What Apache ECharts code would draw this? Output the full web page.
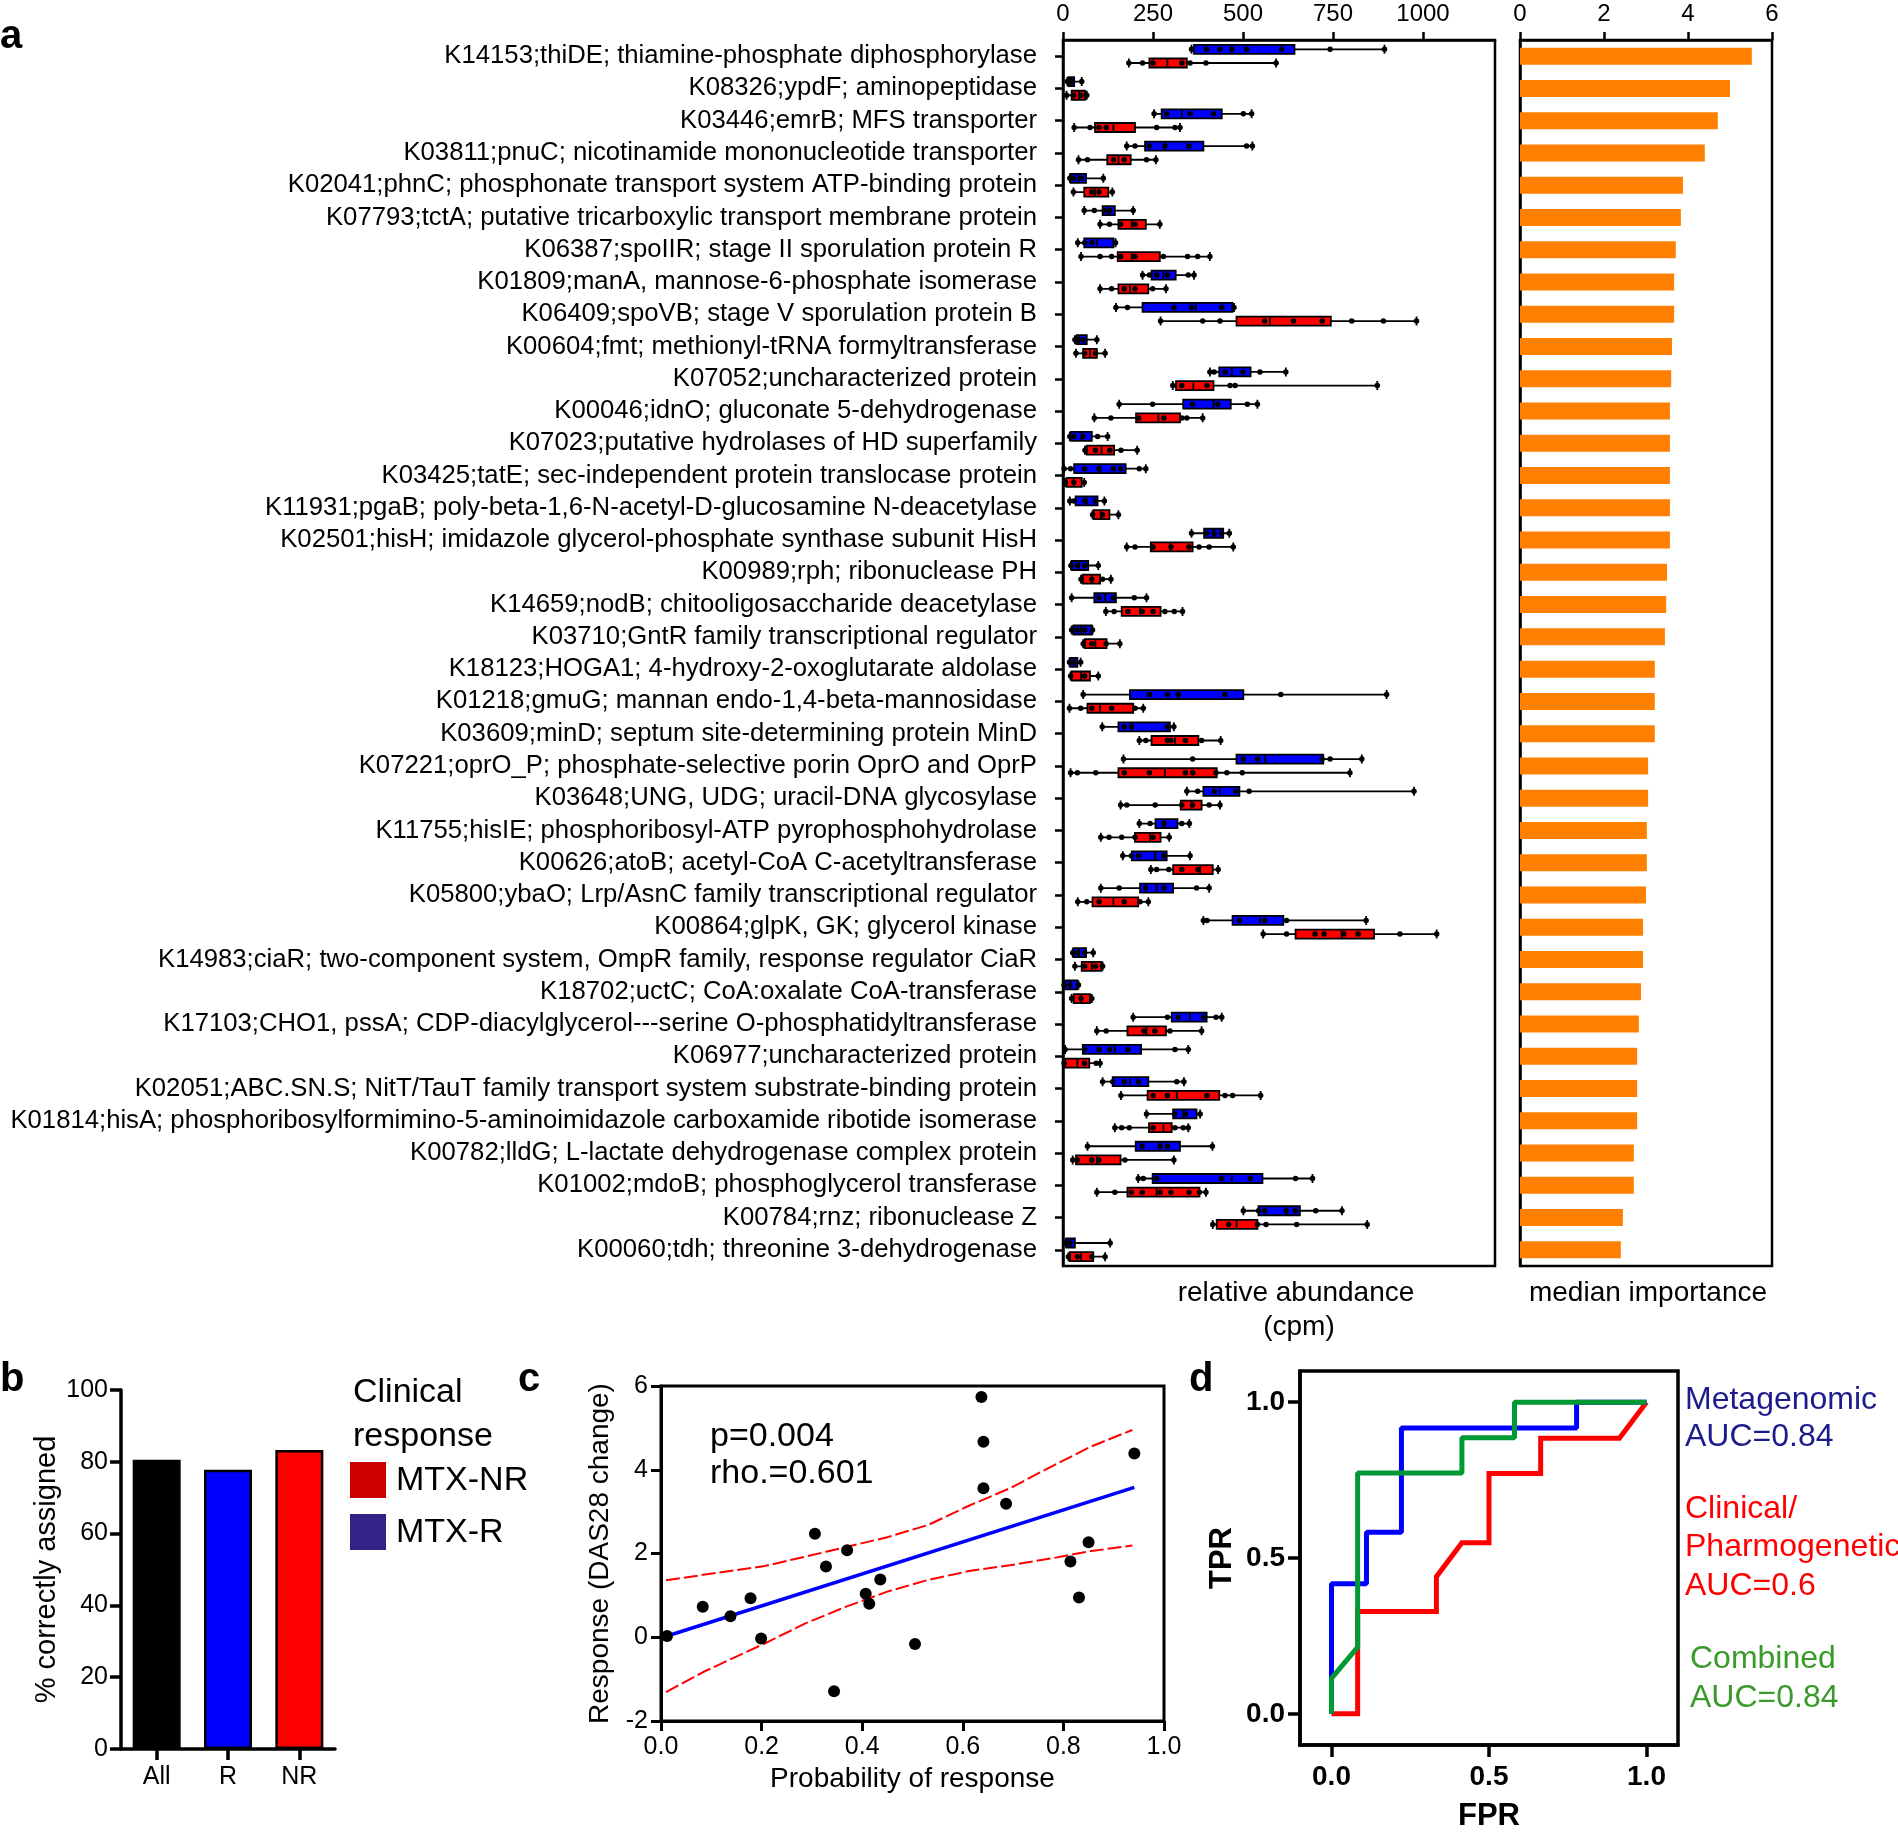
<!DOCTYPE html>
<html><head><meta charset="utf-8">
<script src="https://cdn.jsdelivr.net/npm/echarts@6/dist/echarts.min.js"></script>
<style>html,body{margin:0;padding:0;background:#fff}#c{width:1898px;height:1833px}</style>
</head><body><div id="c"></div>
<script>
// ---------- Panel a data ----------
const genes = [
"K14153;thiDE; thiamine-phosphate diphosphorylase",
"K08326;ypdF; aminopeptidase",
"K03446;emrB; MFS transporter",
"K03811;pnuC; nicotinamide mononucleotide transporter",
"K02041;phnC; phosphonate transport system ATP-binding protein",
"K07793;tctA; putative tricarboxylic transport membrane protein",
"K06387;spoIIR; stage II sporulation protein R",
"K01809;manA, mannose-6-phosphate isomerase",
"K06409;spoVB; stage V sporulation protein B",
"K00604;fmt; methionyl-tRNA formyltransferase",
"K07052;uncharacterized protein",
"K00046;idnO; gluconate 5-dehydrogenase",
"K07023;putative hydrolases of HD superfamily",
"K03425;tatE; sec-independent protein translocase protein",
"K11931;pgaB; poly-beta-1,6-N-acetyl-D-glucosamine N-deacetylase",
"K02501;hisH; imidazole glycerol-phosphate synthase subunit HisH",
"K00989;rph; ribonuclease PH",
"K14659;nodB; chitooligosaccharide deacetylase",
"K03710;GntR family transcriptional regulator",
"K18123;HOGA1; 4-hydroxy-2-oxoglutarate aldolase",
"K01218;gmuG; mannan endo-1,4-beta-mannosidase",
"K03609;minD; septum site-determining protein MinD",
"K07221;oprO_P; phosphate-selective porin OprO and OprP",
"K03648;UNG, UDG; uracil-DNA glycosylase",
"K11755;hisIE; phosphoribosyl-ATP pyrophosphohydrolase",
"K00626;atoB; acetyl-CoA C-acetyltransferase",
"K05800;ybaO; Lrp/AsnC family transcriptional regulator",
"K00864;glpK, GK; glycerol kinase",
"K14983;ciaR; two-component system, OmpR family, response regulator CiaR",
"K18702;uctC; CoA:oxalate CoA-transferase",
"K17103;CHO1, pssA; CDP-diacylglycerol---serine O-phosphatidyltransferase",
"K06977;uncharacterized protein",
"K02051;ABC.SN.S; NitT/TauT family transport system substrate-binding protein",
"K01814;hisA; phosphoribosylformimino-5-aminoimidazole carboxamide ribotide isomerase",
"K00782;lldG; L-lactate dehydrogenase complex protein",
"K01002;mdoB; phosphoglycerol transferase",
"K00784;rnz; ribonuclease Z",
"K00060;tdh; threonine 3-dehydrogenase"
];
// [min, Q1, median, Q3, max] relative abundance (cpm), MTX-R (blue)
const boxR = [
[357,364,469,643,893],[12,15,22,31,52],[253,274,330,441,524],[177,228,283,390,526],
[19,21,43,64,112],[59,110,125,144,195],[41,59,94,140,146],[221,246,279,313,364],
[147,221,369,471,475],[33,38,45,66,94],[408,434,469,521,619],[156,334,418,466,540],
[19,21,52,80,124],[3,31,103,174,230],[19,35,66,96,115],[357,392,418,445,462],
[22,24,45,70,98],[24,87,117,147,232],[24,29,50,80,82],[18,20,30,40,49],
[56,186,320,501,899],[109,154,191,297,308],[168,482,561,723,830],[344,390,436,490,975],
[212,257,283,318,351],[166,191,256,288,353],[105,214,260,306,406],[390,471,547,612,842],
[27,29,45,64,84],[3,5,20,40,43],[195,302,353,399,441],[6,55,144,217,348],
[110,138,186,237,336],[232,306,334,371,381],[68,202,269,325,415],[209,249,469,554,693],
[501,543,621,658,775],[8,9,20,33,131]
];
// MTX-NR (red)
const boxNR = [
[183,240,290,344,592],[10,24,45,61,66],[31,89,140,200,325],[43,123,154,188,258],
[29,59,89,126,137],[103,154,191,230,269],[50,152,191,269,408],[103,154,186,237,286],
[271,482,575,744,982],[36,56,75,94,117],[305,314,362,418,873],[87,203,265,325,388],
[61,66,107,142,206],[6,10,30,52,59],[82,85,105,129,154],[177,244,297,360,473],
[50,55,80,103,133],[119,163,214,271,332],[56,61,90,121,158],[21,24,50,75,98],
[18,68,103,195,223],[212,246,311,376,438],[21,154,283,427,797],[160,327,357,385,436],
[105,200,242,271,295],[244,306,381,416,431],[41,82,140,209,237],[556,646,774,864,1038],
[33,52,80,107,110],[24,30,50,75,80],[94,179,232,286,385],[3,6,40,73,103],
[161,235,316,434,549],[144,239,279,302,348],[27,36,94,160,308],[94,179,260,379,397],
[416,427,482,540,845],[15,19,50,84,117]
];
// individual samples
const ptsR = [
[357,399,436,469,510,607,742,893],[12,18,25,52],[253,288,353,418,501,524],[177,200,240,283,350,510,526],
[19,30,50,112],[59,87,115,130,195],[41,60,80,146],[221,240,260,290,348,364],
[147,179,308,357,441,475],[33,40,55,94],[408,420,450,500,547,619],[156,249,360,430,512,540],
[19,30,55,96,124],[3,21,60,100,140,160,212,230],[19,30,60,90,115],[357,400,420,440,462],
[22,40,60,98],[24,100,140,198,232],[24,40,60,82],[18,30,49],
[56,240,290,320,450,605,899],[109,170,190,290,308],[168,360,500,540,720,742,830],[344,374,420,480,517,975],
[212,242,280,330,351],[166,190,210,280,353],[105,156,230,280,371,406],[390,400,490,560,621,842],
[27,40,60,84],[3,20,43],[195,290,320,390,425,441],[6,60,100,130,180,311,348],
[110,138,170,210,316,336],[232,310,340,381],[68,220,270,290,415],[209,223,260,440,520,646,693],
[501,543,560,620,645,702,775],[8,20,131]
];
const ptsNR = [
[183,221,250,330,353,397,592],[10,30,50,66],[31,75,100,120,260,311,325],[43,68,140,170,232,258],
[29,80,100,137],[103,129,160,200,269],[50,103,135,160,200,279,346,374,408],[103,135,170,200,249,286],
[271,388,436,560,640,720,802,890,982],[36,60,90,117],[305,330,400,464,478,873],[87,133,210,280,330,344,388],
[61,90,130,161,206],[6,30,59],[82,110,154],[177,200,250,300,350,378,406,473],
[50,80,110,133],[119,142,180,220,250,283,309,332],[56,80,120,158],[21,60,98],
[18,49,80,135,200,223],[212,230,290,300,340,385,438],[21,40,91,170,240,340,360,425,455,498,797],[160,177,256,330,360,406,436],
[105,128,163,200,250,295],[244,260,294,330,375,431],[41,66,100,170,214,237],[556,621,700,725,780,820,936,1038],
[33,60,90,110],[24,50,80],[94,120,225,255,297,385],[3,60,92,103],
[161,250,290,400,450,471,549],[144,163,184,250,311,334,348],[27,40,80,100,172,308],[94,144,190,220,270,300,350,379,397],
[416,460,540,564,649,845],[15,40,80,117]
];
const importance = [5.52,5.00,4.71,4.40,3.88,3.83,3.71,3.67,3.67,3.62,3.60,3.57,3.57,3.57,3.57,3.57,3.50,3.48,3.45,
3.21,3.21,3.21,3.05,3.05,3.02,3.02,3.00,2.93,2.93,2.88,2.83,2.79,2.79,2.79,2.71,2.71,2.45,2.40];
const abundTicks = [0,250,500,750,1000];

// ---------- Panel b data ----------
const groups = ['All','R','NR'];
const pctCorrect = [80.6, 77.8, 83.3];
const groupColors = ['#000000','#0000ff','#ff0000'];

// ---------- Panel c data ----------
const probResp = [0.012,0.083,0.138,0.178,0.199,0.306,0.328,0.344,0.370,0.407,0.414,0.436,0.505,0.637,0.641,0.641,0.686,0.814,0.831,0.850,0.941];
const dasChange = [0.03,0.73,0.50,0.93,-0.03,2.47,1.69,-1.29,2.08,1.04,0.80,1.38,-0.16,5.74,4.67,3.56,3.19,1.81,0.95,2.27,4.39];
const fitLine = [[0.012,0.03],[0.941,3.58]];
const ciUpper = [[0.01,1.36],[0.084,1.49],[0.206,1.70],[0.328,2.04],[0.45,2.39],[0.531,2.68],[0.612,3.14],[0.694,3.56],[0.775,4.07],[0.856,4.56],[0.937,4.95]];
const ciLower = [[0.01,-1.31],[0.084,-0.83],[0.141,-0.51],[0.206,-0.15],[0.287,0.33],[0.368,0.73],[0.45,1.09],[0.531,1.37],[0.612,1.58],[0.694,1.72],[0.775,1.88],[0.856,2.06],[0.937,2.19]];

// ---------- Panel d data (FPR, TPR) ----------
const rocMeta = [[0,0],[0,0.417],[0.111,0.417],[0.111,0.583],[0.222,0.583],[0.222,0.917],[0.778,0.917],[0.778,1],[1,1]];
const rocClin = [[0,0],[0.083,0],[0.083,0.328],[0.333,0.328],[0.333,0.44],[0.414,0.549],[0.5,0.549],[0.5,0.771],[0.664,0.771],[0.664,0.884],[0.914,0.884],[1,1]];
const rocComb = [[0,0],[0,0.114],[0.083,0.214],[0.083,0.773],[0.414,0.773],[0.414,0.886],[0.581,0.886],[0.581,1],[1,1]];
const rocTicks = [0,0.5,1];

// ---------- build ----------
const FONT = "'Liberation Sans', Arial, Helvetica, sans-serif";
const BLK = '#000';
const ptDataR = [], ptDataNR = [];
ptsR.forEach((a,i)=>a.forEach(v=>ptDataR.push([v,i])));
ptsNR.forEach((a,i)=>a.forEach(v=>ptDataNR.push([v,i])));

function txt(text, x, y, size, o) {
  o = o || {};
  return {type:'text', x:x, y:y, z:100, style:{text:text, fontSize:size, fontFamily:FONT,
    fontWeight:o.bold?'bold':'normal', fill:o.color||BLK,
    align:o.align||'left', verticalAlign:'middle', textAlign:o.align||'left', textVerticalAlign:'middle'}};
}
const axLine = w => ({show:true, onZero:false, lineStyle:{color:BLK, width:w}});
const axTick = (w,len,extra) => Object.assign({show:true, inside:false, length:len, lineStyle:{color:BLK, width:w}}, extra||{});
const lbl = (size, margin, extra) => Object.assign({show:true, color:BLK, fontSize:size, fontFamily:FONT, margin:margin}, extra||{});

const option = {
  animation:false,
  backgroundColor:'#fff',
  textStyle:{fontFamily:FONT, color:BLK},
  grid:[
    {left:1063, top:40, width:432, height:1226, show:true, borderColor:BLK, borderWidth:2.5, backgroundColor:'transparent'},
    {left:1520, top:40, width:252, height:1226, show:true, borderColor:BLK, borderWidth:2.5, backgroundColor:'transparent'},
    {left:121, top:1390, width:214, height:359},
    {left:661, top:1386, width:503, height:335, show:true, borderColor:BLK, borderWidth:3, backgroundColor:'transparent'},
    {left:1300, top:1371, width:378, height:378, show:true, borderColor:BLK, borderWidth:3.5, backgroundColor:'transparent'}
  ],
  xAxis:[
    {type:'value', gridIndex:0, position:'top', min:0, max:1200, axisLine:axLine(2.5),
     axisTick:axTick(2.5,8,{customValues:abundTicks}),
     axisLabel:lbl(24,14,{customValues:abundTicks, formatter:v=>String(v)}), splitLine:{show:false}},
    {type:'value', gridIndex:1, position:'top', min:0, max:6, interval:2, axisLine:axLine(2.5),
     axisTick:axTick(2.5,8), axisLabel:lbl(24,14), splitLine:{show:false}},
    {type:'category', gridIndex:2, data:groups, axisLine:axLine(3.5),
     axisTick:axTick(3.5,11,{alignWithLabel:true}), axisLabel:lbl(25,16,{interval:0}), splitLine:{show:false}},
    {type:'value', gridIndex:3, min:0, max:1, interval:0.2, axisLine:axLine(3),
     axisTick:axTick(3,10), axisLabel:lbl(25,14,{formatter:v=>v.toFixed(1)}), splitLine:{show:false},
     name:'Probability of response', nameLocation:'middle', nameGap:44, nameTextStyle:{fontSize:28, color:BLK, fontFamily:FONT}},
    {type:'value', gridIndex:4, min:-0.1, max:1.1, axisLine:axLine(3.5),
     axisTick:axTick(3.5,12,{customValues:rocTicks}),
     axisLabel:lbl(28,18,{customValues:rocTicks, fontWeight:'bold', formatter:v=>v.toFixed(1)}), splitLine:{show:false},
     name:'FPR', nameLocation:'middle', nameGap:56, nameTextStyle:{fontSize:31, fontWeight:'bold', color:BLK, fontFamily:FONT}}
  ],
  yAxis:[
    {type:'category', gridIndex:0, data:genes, inverse:true, axisLine:axLine(2.5),
     axisTick:axTick(2.5,8,{alignWithLabel:true}), axisLabel:lbl(25.7,26,{interval:0}), splitLine:{show:false}},
    {type:'category', gridIndex:1, data:genes, inverse:true, axisLine:axLine(2.5),
     axisTick:{show:false}, axisLabel:{show:false}, splitLine:{show:false}},
    {type:'value', gridIndex:2, min:0, max:100, interval:20, axisLine:axLine(3.5),
     axisTick:axTick(3.5,11), axisLabel:lbl(25,13), splitLine:{show:false},
     name:'% correctly assigned', nameLocation:'middle', nameGap:60, nameTextStyle:{fontSize:29, color:BLK, fontFamily:FONT}},
    {type:'value', gridIndex:3, min:-2, max:6, interval:2, axisLine:axLine(3),
     axisTick:axTick(3,10), axisLabel:lbl(25,13), splitLine:{show:false},
     name:'Response (DAS28 change)', nameLocation:'middle', nameGap:47, nameTextStyle:{fontSize:28, color:BLK, fontFamily:FONT}},
    {type:'value', gridIndex:4, min:-0.1, max:1.1, axisLine:axLine(3.5),
     axisTick:axTick(3.5,12,{customValues:rocTicks}),
     axisLabel:lbl(28,15,{customValues:rocTicks, fontWeight:'bold', formatter:v=>v.toFixed(1)}), splitLine:{show:false},
     name:'TPR', nameLocation:'middle', nameGap:62, nameTextStyle:{fontSize:31, fontWeight:'bold', color:BLK, fontFamily:FONT}}
  ],
  series:[
    {type:'boxplot', name:'MTX-R', xAxisIndex:0, yAxisIndex:0, data:boxR, boxWidth:[9,9],
     itemStyle:{color:'#0000ff', borderColor:BLK, borderWidth:1.8}, emphasis:{disabled:true}, z:2},
    {type:'boxplot', name:'MTX-NR', xAxisIndex:0, yAxisIndex:0, data:boxNR, boxWidth:[9,9],
     itemStyle:{color:'#ff0000', borderColor:BLK, borderWidth:1.8}, emphasis:{disabled:true}, z:2},
    {type:'scatter', xAxisIndex:0, yAxisIndex:0, data:ptDataR, symbol:'circle', symbolSize:5.5,
     symbolOffset:[0,-6.86], itemStyle:{color:BLK, opacity:1}, emphasis:{disabled:true}, z:3},
    {type:'scatter', xAxisIndex:0, yAxisIndex:0, data:ptDataNR, symbol:'circle', symbolSize:5.5,
     symbolOffset:[0,6.86], itemStyle:{color:BLK, opacity:1}, emphasis:{disabled:true}, z:3},
    {type:'bar', xAxisIndex:1, yAxisIndex:1, data:importance, barWidth:17, itemStyle:{color:'#ff8000'}, emphasis:{disabled:true}},
    {type:'bar', xAxisIndex:2, yAxisIndex:2, barWidth:48,
     data:pctCorrect.map((v,i)=>({value:v, itemStyle:{color:groupColors[i]}})),
     itemStyle:{borderColor:BLK, borderWidth:2.5}, emphasis:{disabled:true}},
    {type:'line', xAxisIndex:3, yAxisIndex:3, data:ciUpper, showSymbol:false, smooth:false,
     lineStyle:{color:'#ff0000', width:2, type:[14,4]}, emphasis:{disabled:true}},
    {type:'line', xAxisIndex:3, yAxisIndex:3, data:ciLower, showSymbol:false,
     lineStyle:{color:'#ff0000', width:2, type:[14,4]}, emphasis:{disabled:true}},
    {type:'line', xAxisIndex:3, yAxisIndex:3, data:fitLine, showSymbol:false,
     lineStyle:{color:'#0000ff', width:3.5}, emphasis:{disabled:true}},
    {type:'scatter', xAxisIndex:3, yAxisIndex:3, data:probResp.map((x,i)=>[x,dasChange[i]]),
     symbol:'circle', symbolSize:12, itemStyle:{color:BLK, opacity:1}, emphasis:{disabled:true}, z:5},
    {type:'line', xAxisIndex:4, yAxisIndex:4, data:rocClin, showSymbol:false,
     lineStyle:{color:'#ff0000', width:5, join:'miter'}, emphasis:{disabled:true}},
    {type:'line', xAxisIndex:4, yAxisIndex:4, data:rocMeta, showSymbol:false,
     lineStyle:{color:'#0000ff', width:5}, emphasis:{disabled:true}},
    {type:'line', xAxisIndex:4, yAxisIndex:4, data:rocComb, showSymbol:false,
     lineStyle:{color:'#009933', width:5}, emphasis:{disabled:true}}
  ],
  graphic:[
    txt('a', 0, 37, 40, {bold:true}),
    txt('b', 0, 1380, 40, {bold:true}),
    txt('c', 518, 1380, 40, {bold:true}),
    txt('d', 1189, 1380, 40, {bold:true}),
    txt('relative abundance', 1296, 1293, 28, {align:'center'}),
    txt('(cpm)', 1299, 1327, 28, {align:'center'}),
    txt('median importance', 1648, 1293, 28, {align:'center'}),
    txt('Clinical', 353, 1393, 34),
    txt('response', 353, 1437, 34),
    {type:'rect', shape:{x:350, y:1462, width:36, height:36}, style:{fill:'#cc0000'}},
    txt('MTX-NR', 396, 1481, 34),
    {type:'rect', shape:{x:350, y:1514, width:36, height:36}, style:{fill:'#332288'}},
    txt('MTX-R', 396, 1533, 34),
    txt('p=0.004', 710, 1437, 34),
    txt('rho.=0.601', 710, 1474, 34),
    txt('Metagenomic', 1685, 1400, 32, {color:'#1c1c8c'}),
    txt('AUC=0.84', 1685, 1437, 32, {color:'#1c1c8c'}),
    txt('Clinical/', 1685, 1509, 32, {color:'#ff0000'}),
    txt('Pharmogenetic', 1685, 1547, 32, {color:'#ff0000'}),
    txt('AUC=0.6', 1685, 1586, 32, {color:'#ff0000'}),
    txt('Combined', 1690, 1659, 32, {color:'#3a9a2a'}),
    txt('AUC=0.84', 1690, 1698, 32, {color:'#3a9a2a'})
  ]
};
const chart = echarts.init(document.getElementById('c'));
chart.setOption(option);
</script></body></html>
